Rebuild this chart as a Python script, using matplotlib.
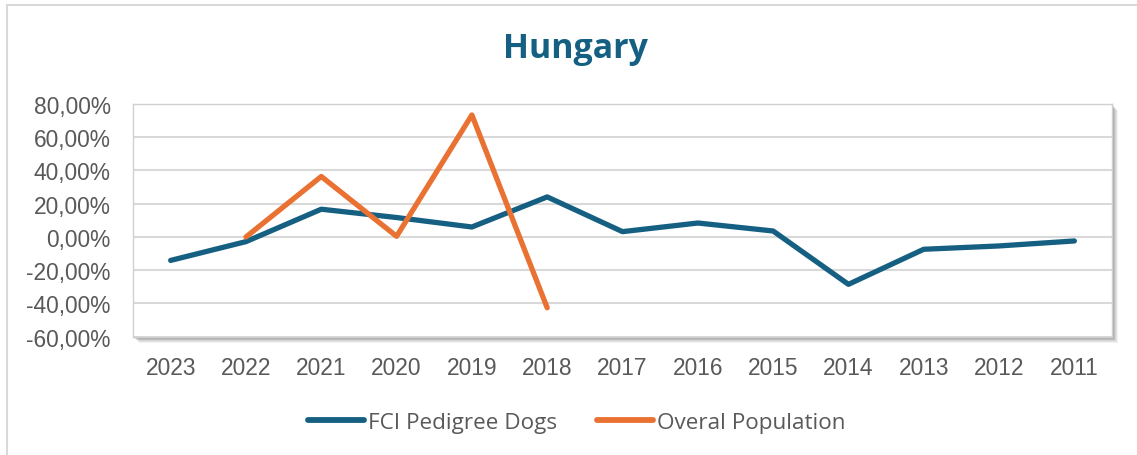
import matplotlib
matplotlib.use("Agg")
import matplotlib.pyplot as plt
import numpy as np
from matplotlib.patches import Rectangle
from matplotlib.ticker import FuncFormatter

years = ["2023", "2022", "2021", "2020", "2019", "2018", "2017",
         "2016", "2015", "2014", "2013", "2012", "2011"]
fci_pedigree = [-14.1, -2.8, 16.7, 11.7, 6.0, 24.1, 3.2, 8.4, 3.6, -28.5, -7.4, -5.4, -2.4]
overall_population = [np.nan, 0.0, 36.4, 0.4, 73.4, -42.6, np.nan, np.nan,
                      np.nan, np.nan, np.nan, np.nan, np.nan]
series_names = ["FCI Pedigree Dogs", "Overal Population"]
title = "Hungary"

BLUE = "#156082"
ORANGE = "#E97132"
GRAY_TXT = "#595959"
GRID = "#D9D9D9"

W, H = 1137, 456
fig = plt.figure(figsize=(W / 100, H / 100), dpi=100)
fig.patch.set_facecolor("white")

# outer chart border
fig.add_artist(Rectangle((7 / W, -0.05), 1.2, 1 - 6 / H + 0.05, transform=fig.transFigure,
                         fill=False, edgecolor="#D9D9D9", linewidth=1.5, zorder=0))

left, right, top, bottom = 133, 1112, 105, 337.7
ax = fig.add_axes([left / W, 1 - bottom / H, (right - left) / W, (bottom - top) / H])

# soft shadow for plot area (right/bottom)
for i, a in enumerate([0.10, 0.12, 0.16, 0.22, 0.30]):
    off = 6 - i
    fig.add_artist(Rectangle(((left + off) / W, 1 - (bottom + off) / H),
                             (right - left) / W, (bottom - top) / H,
                             transform=fig.transFigure, facecolor="#7F7F7F",
                             edgecolor="none", alpha=a, zorder=0.5))

ax.set_facecolor("white")
ax.set_zorder(1)
x = np.arange(len(years))
ax.plot(x, fci_pedigree, color=BLUE, lw=3.8, solid_capstyle="round",
        solid_joinstyle="round", label=series_names[0], zorder=3)
ax.plot(x, overall_population, color=ORANGE, lw=3.8, solid_capstyle="round",
        solid_joinstyle="round", label=series_names[1], zorder=3)

ax.set_xlim(-0.5, len(years) - 0.5)
ax.set_ylim(-60, 80)
ax.set_yticks(np.arange(-60, 81, 20))
ax.yaxis.set_major_formatter(FuncFormatter(lambda v, p: f"{v:.2f}".replace(".", ",") + "%"))
ax.set_xticks(x)
ax.set_xticklabels(years)
ax.grid(axis="y", color=GRID, lw=1.5)
ax.set_axisbelow(True)
for s in ax.spines.values():
    s.set_color("#D0D0D0")
    s.set_linewidth(1.0)
ax.tick_params(length=0, labelsize=16.4, labelcolor=GRAY_TXT)
ax.tick_params(axis="y", pad=16)
ax.tick_params(axis="x", pad=14)
for lab in ax.get_xticklabels() + ax.get_yticklabels():
    lab.set_family(["Liberation Sans", "DejaVu Sans"])

fig.text(575 / W, 1 - 58 / H, title, ha="center", va="baseline", fontsize=24.5,
         fontweight="bold", color=BLUE, family=["Open Sans", "DejaVu Sans"])

leg = fig.legend(loc="center", bbox_to_anchor=(577 / W, 1 - 423 / H), ncol=2,
                 frameon=False, handlelength=2.5, handletextpad=0.18, columnspacing=1.75,
                 prop={"family": ["Open Sans", "DejaVu Sans"], "size": 16.2})
for t in leg.get_texts():
    t.set_color(GRAY_TXT)
for l in leg.get_lines():
    l.set_linewidth(4.2)
    l.set_solid_capstyle("round")

fig.savefig("out.png", dpi=100, facecolor="white")
